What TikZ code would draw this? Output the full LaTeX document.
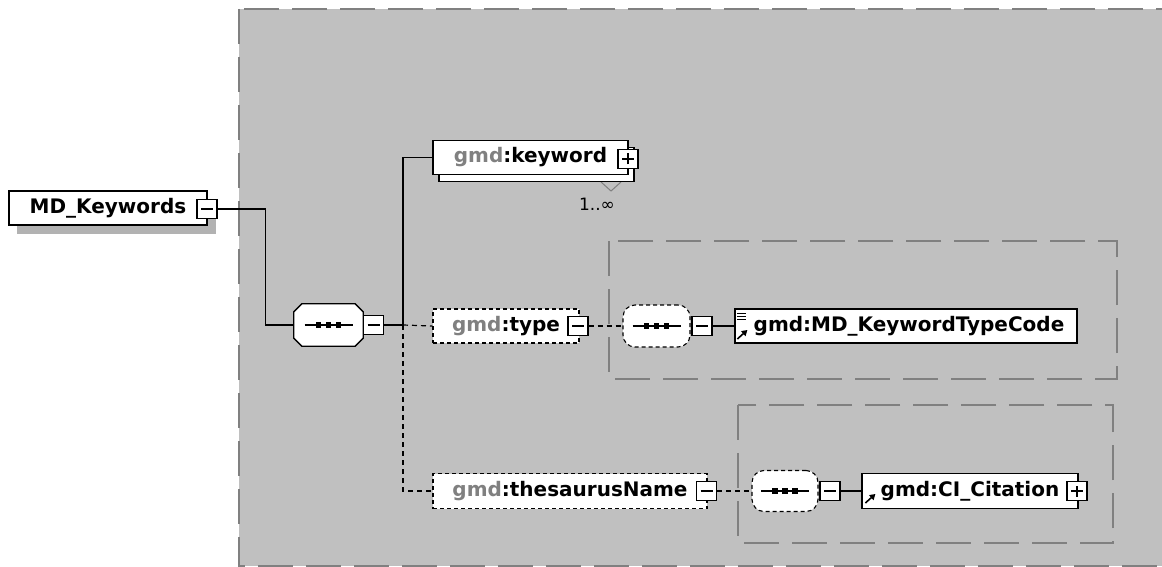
\documentclass[tikz,border=0pt]{standalone}
\usepackage{fontspec}
\newfontfamily\xsdfont{DejaVu Sans}
\usetikzlibrary{arrows.meta, positioning}
\definecolor{xsdgray}   {RGB}{192, 192, 192}
\definecolor{xsdline}   {RGB}{128, 128, 128}
\definecolor{xsdshadow} {RGB}{178, 178, 178}

% octagon border of a compositor
\newcommand{\octo}[1]{%
	\draw[line width=1.3pt, fill=white] ([xshift=8pt]#1.north west) -- ([xshift=-8pt]#1.north east)
		-- ([yshift=-8pt]#1.north east) -- ([yshift=8pt]#1.south east)
		-- ([xshift=-8pt]#1.south east) -- ([xshift=8pt]#1.south west)
		-- ([yshift=8pt]#1.south west) -- ([yshift=-8pt]#1.north west) -- cycle;
}
% line with three dots inside a compositor
\newcommand{\seqdots}[1]{%
	\draw[line width=1.2pt] ([xshift=-24pt]#1.center) -- ([xshift=24pt]#1.center);
	\foreach \dx in {-10,0,10}
		\fill ([xshift=\dx pt]#1.center) +(-2.6,-2.6) rectangle +(2.6,2.6);
}

\begin{document}
\begin{tikzpicture}[x=1pt, y=-1pt,
	elem/.style={draw, fill=white, line width=1.3pt, inner sep=0pt, minimum height=34pt,
		font=\xsdfont\bfseries\fontsize{20}{22}\selectfont},
	optelem/.style={elem, line width=1.1pt, dash pattern=on 4pt off 3pt},
	pmbox/.style={draw, fill=white, line width=1.3pt, minimum width=20pt, minimum height=19pt, inner sep=0pt},
	minusbox/.style={pmbox, path picture={
		\draw[line width=1.1pt] ([xshift=4pt]path picture bounding box.west) -- ([xshift=-4pt]path picture bounding box.east);}},
	plusbox/.style={pmbox, path picture={
		\draw[line width=1.1pt] ([xshift=4pt]path picture bounding box.west) -- ([xshift=-4pt]path picture bounding box.east);
		\draw[line width=1.1pt] ([yshift=4pt]path picture bounding box.south) -- ([yshift=-4pt]path picture bounding box.north);}},
	seqbox/.style={inner sep=0pt, minimum width=69pt, minimum height=42pt},
	optseq/.style={rectangle, rounded corners=12pt, draw, fill=white, line width=1.1pt,
		dash pattern=on 4pt off 3pt, inner sep=0pt, minimum width=67pt, minimum height=42pt},
	group/.style={draw=xsdline, line width=1.6pt, dash pattern=on 35pt off 13pt},
	link/.style={line width=1.3pt},
	optlink/.style={line width=1.2pt, dash pattern=on 5pt off 4pt},
	ref/.style={line width=1.6pt, -{Triangle[length=5.5pt,width=6.5pt]}}
]
\useasboundingbox (0,0) rectangle (1162,567);

% groups
\draw[group, fill=xsdgray] (239,9) rectangle (1190,566);
\draw[group] (609,241) rectangle (1117,379);
\draw[group] (738,405) rectangle (1113,543);

% root element
\fill[xsdshadow] (17,200) rectangle (216,234);
\node[elem, minimum width=198pt] (mdk) at (108,208) {MD\_Keywords};
\node[minusbox] (mdkpm) at (207,209) {};

% sequence
\node[seqbox] (seq) at (328.5,325) {};
\octo{seq}
\seqdots{seq}
\node[minusbox] (seqpm) at (373.5,325) {};
\coordinate (fork) at (403,325);

% keyword
\draw[xsdline, line width=1pt] (601,182) -- (611,191) -- (621,182);
\node[elem, minimum width=195pt] (kwback) at (536.5,164.5) {};
\node[elem, minimum width=195pt] (kw) at (530.5,157.5) {{\color{xsdline}gmd}:keyword};
\node[plusbox] (kwpm) at (628,159) {};
\node[font=\xsdfont\fontsize{17}{20}\selectfont] (kwmult) at (597,204) {1..∞};

% type
\node[optelem, minimum width=146pt] (type) at (506,326) {{\color{xsdline}gmd}:type};
\node[minusbox] (typepm) at (578,326) {};
\node[optseq] (typeseq) at (656.5,326) {};
\seqdots{typeseq}
\node[minusbox] (typeseqpm) at (702,326) {};
\node[elem, minimum width=342pt] (tc) at (906,326) {\hspace{6pt}gmd:MD\_KeywordTypeCode};
\foreach \dy in {-13,-10,-7}
	\draw[line width=0.8pt] ([shift={(3,\dy)}]tc.west) -- ++(9,0);
\draw[ref] ([shift={(3,13)}]tc.west) -- ++(10,-9);

% thesaurusName
\node[optelem, minimum width=274pt, minimum height=35pt] (thes) at (570,491) {{\color{xsdline}gmd}:thesaurusName};
\node[minusbox] (thespm) at (706.5,491) {};
\node[optseq, minimum width=66pt, minimum height=41pt] (thesseq) at (785,491) {};
\seqdots{thesseq}
\node[minusbox] (thesseqpm) at (830,491) {};
\node[elem, minimum width=216pt, minimum height=35pt] (cit) at (970,491) {gmd:CI\_Citation};
\node[plusbox] (citpm) at (1077,491) {};
\draw[ref] ([shift={(4,12)}]cit.west) -- ++(10,-9);

% connectors
\draw[link] (mdkpm.east) -- ++(48,0) |- (seq.west);
\draw[link] (seqpm.east) -- (fork);
\draw[link] (fork) |- (kw.west);
\draw[optlink] (fork) -- (type.west);
\draw[optlink] (fork) |- (thes.west);
\draw[optlink] (typepm.east) -- (typeseq.west);
\draw[link] (typeseqpm.east) -- (tc.west);
\draw[optlink] (thespm.east) -- (thesseq.west);
\draw[link] (thesseqpm.east) -- (cit.west);
\end{tikzpicture}
\end{document}
